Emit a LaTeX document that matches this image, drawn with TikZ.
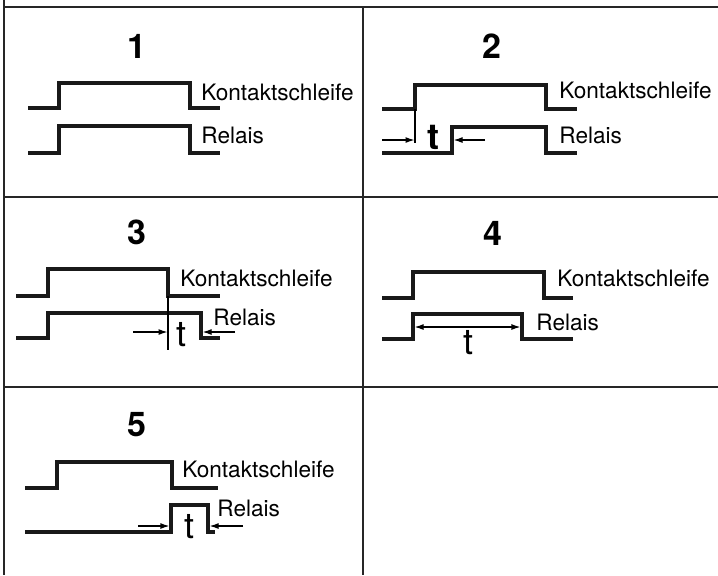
\documentclass[tikz,border=0pt]{standalone}
\usepackage{fontspec}
\setmainfont{TeX Gyre Heros}
\usepackage{tikz}
\usetikzlibrary{arrows.meta}
\tikzset{
  rule/.style={line width=1pt, black!85},
  wave/.style={line width=1.8pt, black!90},
  guide/.style={line width=0.6pt, black},
  dimarrow/.style={guide, -{Latex[length=4.5pt,width=3pt]}},
  sig/.style={anchor=west, inner sep=0pt, font=\fontsize{11.3}{13}\selectfont},
  casenum/.style={inner sep=0pt, font=\fontsize{17}{19}\selectfont\bfseries},
  tlabel/.style={inner sep=0pt, font=\fontsize{18}{20}\selectfont},
}

\begin{document}
\begin{tikzpicture}[x=0.5pt, y=-0.5pt]
  \useasboundingbox (0,0) rectangle (718,575);

  % table rules
  \draw[rule] (4,0) -- (4,575);
  \draw[rule] (363,7) -- (363,575);
  \foreach \yy in {7,196.5,387}
    \draw[rule] (4,\yy) -- (718,\yy);

  % case 1
  \node[casenum] (n1) at (137,46) {1};
  \draw[wave] (28,108) -- (59,108) -- (59,83) -- (190,83) -- (190,108) -- (220,108);
  \draw[wave] (28,153) -- (59,153) -- (59,126) -- (190,126) -- (190,153) -- (220,153);
  \node[sig] (k1) at (201,92) {Kontaktschleife};
  \node[sig] (r1) at (201,135) {Relais};

  % case 2
  \node[casenum] (n2) at (492,46) {2};
  \draw[wave] (382,109) -- (415,109) -- (415,85) -- (546,85) -- (546,109) -- (577,109);
  \draw[wave] (382,153) -- (452,153) -- (452,127) -- (546,127) -- (546,153) -- (577,153);
  \draw[guide] (415,109) -- (415,143);
  \coordinate (a2) at (414.5,140);
  \coordinate (b2) at (453.6,140);
  \draw[dimarrow] (382,140) -- (a2);
  \draw[dimarrow] (485,140) -- (b2);
  \node[tlabel, font=\fontsize{18}{20}\selectfont\bfseries] (t2) at (433,137) {t};
  \node[sig] (k2) at (559,90) {Kontaktschleife};
  \node[sig] (r2) at (559,135) {Relais};

  % case 3
  \node[casenum] (n3) at (137,232) {3};
  \draw[wave] (16,296) -- (48,296) -- (48,269) -- (168,269) -- (168,296) -- (220,296);
  \draw[wave] (16,338) -- (48,338) -- (48,313) -- (201,313) -- (201,338) -- (220,338);
  \draw[guide] (168,296) -- (168,350);
  \coordinate (a3) at (167.5,332);
  \coordinate (b3) at (202.6,332);
  \draw[dimarrow] (133,332) -- (a3);
  \draw[dimarrow] (235,332) -- (b3);
  \node[tlabel] (t3) at (182,335) {t};
  \node[sig] (k3) at (180,278) {Kontaktschleife};
  \node[sig] (r3) at (213,317) {Relais};

  % case 4
  \node[casenum] (n4) at (493,233) {4};
  \draw[wave] (382,298) -- (413,298) -- (413,272) -- (544,272) -- (544,298) -- (573,298);
  \draw[wave] (382,339) -- (413,339) -- (413,314) -- (522,314) -- (522,339) -- (573,339);
  \coordinate (a4) at (414.6,327);
  \coordinate (b4) at (520.4,327);
  \draw[guide, {Latex[length=4.5pt,width=3pt]}-{Latex[length=4.5pt,width=3pt]}] (a4) -- (b4);
  \node[tlabel] (t4) at (468,343) {t};
  \node[sig] (k4) at (557,278) {Kontaktschleife};
  \node[sig] (r4) at (536,322) {Relais};

  % case 5
  \node[casenum] (n5) at (137,425) {5};
  \draw[wave] (25,488) -- (57,488) -- (57,462) -- (172,462) -- (172,488) -- (218,488);
  \draw[wave] (25,532) -- (171,532) -- (171,505) -- (208,505) -- (208,532) -- (215,532);
  \coordinate (a5) at (169.4,526);
  \coordinate (b5) at (209.6,526);
  \draw[dimarrow] (138,526) -- (a5);
  \draw[dimarrow] (243,526) -- (b5);
  \node[tlabel] (t5) at (190,527) {t};
  \node[sig] (k5) at (182,469) {Kontaktschleife};
  \node[sig] (r5) at (217,508) {Relais};
\end{tikzpicture}
\end{document}
